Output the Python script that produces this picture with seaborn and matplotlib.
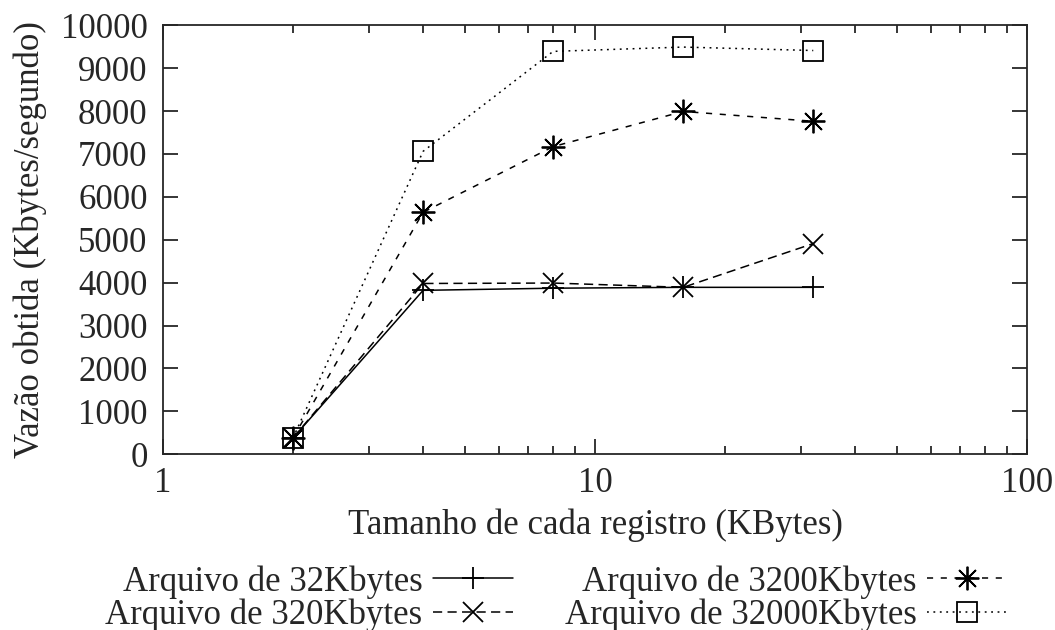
import matplotlib
matplotlib.use("Agg")
import matplotlib.pyplot as plt
import matplotlib.ticker as mticker
import numpy as np
import pandas as pd
import seaborn as sns

# Record sizes (KBytes) and measured throughput (Kbytes/segundo) per file size
tamanhos = [2, 4, 8, 16, 32]
vazao_32k = [380, 3820, 3870, 3890, 3890]
vazao_320k = [380, 3980, 3990, 3890, 4910]
vazao_3200k = [380, 5640, 7170, 7990, 7760]
vazao_32000k = [380, 7060, 9390, 9490, 9410]

rotulos = ["Arquivo de 32Kbytes", "Arquivo de 320Kbytes",
           "Arquivo de 3200Kbytes", "Arquivo de 32000Kbytes"]

sns.set_style("ticks")
plt.rcParams["font.family"] = ["Liberation Serif", "DejaVu Serif"]

fig = plt.figure(figsize=(10.55, 6.3), dpi=100)
ax = fig.add_axes([0.1545, 0.279, 0.819, 0.681])

estilos = [
    dict(marker="+", linestyle="-", markersize=16, mfc="none"),
    dict(marker="x", linestyle=(0, (6, 3.5)), markersize=14, mfc="none"),
    dict(marker=(8, 2, 0), linestyle=(0, (4, 5)), markersize=17, mfc="none"),
    dict(marker="s", linestyle=(0, (1.2, 3)), markersize=14, mfc="none"),
]
series = [vazao_32k, vazao_320k, vazao_3200k, vazao_32000k]

for valores, rotulo, est in zip(series, rotulos, estilos):
    df = pd.DataFrame({"tamanho": tamanhos, "vazao": valores})
    sns.lineplot(data=df, x="tamanho", y="vazao", ax=ax, color="black",
                 linewidth=1.1, mec="black", mew=1.3, label=rotulo, **est)

ax.set_xscale("log")
ax.set_xlim(1, 100)
ax.set_ylim(0, 10000)
ax.set_yticks(np.arange(0, 10001, 1000))
ax.xaxis.set_major_locator(mticker.FixedLocator([1, 10, 100]))
ax.xaxis.set_major_formatter(mticker.FixedFormatter(["1", "10", "100"]))
ax.xaxis.set_minor_locator(mticker.LogLocator(base=10, subs=np.arange(2, 10)))
ax.xaxis.set_minor_formatter(mticker.NullFormatter())

ax.tick_params(which="both", direction="in", top=True, right=True,
               labelsize=25, width=1.3)
ax.tick_params(axis="y", pad=11)
ax.tick_params(axis="x", pad=9)
ax.tick_params(which="major", length=11)
ax.tick_params(which="minor", length=6)
for s in ax.spines.values():
    s.set_linewidth(1.3)
    s.set_visible(True)

ax.set_xlabel("Tamanho de cada registro (KBytes)", fontsize=25, labelpad=6)
ax.set_ylabel("Vazão obtida (Kbytes/segundo)", fontsize=25, labelpad=10)

ax.legend(loc="upper center", bbox_to_anchor=(0.455, -0.218), ncol=2,
          frameon=False, markerfirst=False, fontsize=25,
          handlelength=2.3, handletextpad=0.3, columnspacing=1.5,
          labelspacing=0.0, borderpad=0)

fig.savefig("out.png", dpi=100)
